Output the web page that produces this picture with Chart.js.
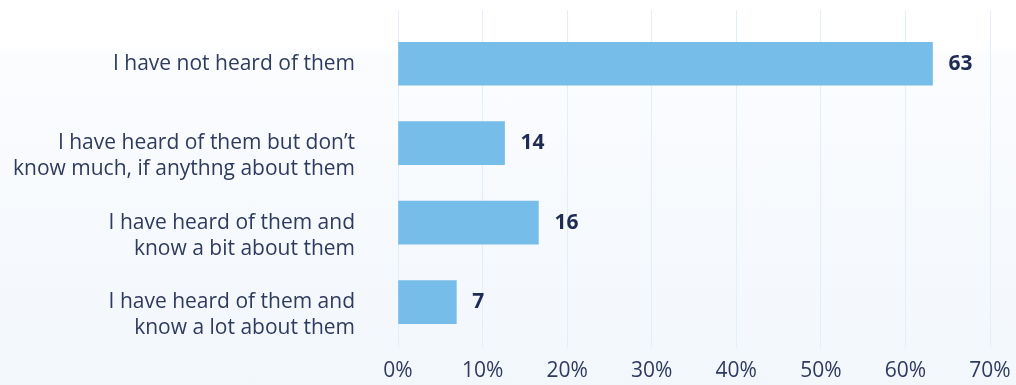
<!DOCTYPE html>
<html>
<head>
<meta charset="utf-8">
<script src="https://cdn.jsdelivr.net/npm/chart.js@4"></script>
<style>
  html, body { margin: 0; padding: 0; }
  body {
    width: 1016px;
    height: 385px;
    background: linear-gradient(to bottom, #ffffff 0%, #ffffff 12%, #fbfcfe 14%, #f2f7fc 100%);
  }
  #chartBox { position: relative; width: 1016px; height: 385px; }
</style>
</head>
<body>
<div id="chartBox"><canvas id="awareChart"></canvas></div>
<script>
// Categories (multi-line labels; the leading '' keeps the first line level with the bar)
const categories = [
    ['I have not heard of them'],
    ['', 'I have heard of them but don\u2019t', 'know much, if anythng about them'],
    ['', 'I have heard of them and', 'know a bit about them'],
    ['', 'I have heard of them and', 'know a lot about them']
];

// Bar lengths as drawn in the picture (percent)
const barValues = [63.2, 12.6, 16.6, 6.9];

// Numbers printed next to the bars
const valueLabels = ['63', '14', '16', '7'];

// X axis range / ticks
const axisMin = 0;
const axisMax = 70;
const axisStep = 10;

const textColor = '#2f3b5e';
const gridColor = '#e2eff8';

// Draw the value labels just past the end of each bar
const valueLabelPlugin = {
    id: 'valueLabels',
    afterDatasetsDraw(chart) {
        const ctx = chart.ctx;
        const meta = chart.getDatasetMeta(0);
        ctx.save();
        ctx.font = 'bold 21px "Open Sans"';
        ctx.fillStyle = '#1f2b52';
        ctx.textAlign = 'left';
        ctx.textBaseline = 'middle';
        meta.data.forEach((bar, i) => {
            ctx.fillText(valueLabels[i], bar.x + 16, bar.y);
        });
        ctx.restore();
    }
};

const ctx = document.getElementById('awareChart').getContext('2d');
new Chart(ctx, {
    type: 'bar',
    data: {
        labels: categories,
        datasets: [{
            data: barValues,
            backgroundColor: '#76bde9',
            borderWidth: 0,
            barThickness: 43
        }]
    },
    options: {
        indexAxis: 'y',
        responsive: true,
        maintainAspectRatio: false,
        animation: false,
        layout: { padding: { top: 10, right: 26, bottom: -10, left: 0 } },
        plugins: {
            legend: { display: false },
            tooltip: { enabled: false }
        },
        scales: {
            x: {
                position: 'bottom',
                min: axisMin,
                max: axisMax,
                border: { display: false },
                grid: { color: gridColor, lineWidth: 1, tickLength: 6 },
                afterFit: scale => { scale.paddingLeft = 0; scale.paddingRight = 0; },
                ticks: {
                    stepSize: axisStep,
                    padding: 11,
                    color: textColor,
                    font: { family: 'Open Sans', size: 21 },
                    callback: v => v + '%'
                }
            },
            // only used to extend the grid lines above the first bar
            xTop: {
                axis: 'x',
                position: 'top',
                min: axisMin,
                max: axisMax,
                border: { display: false },
                grid: { color: gridColor, lineWidth: 1, tickLength: 14, drawOnChartArea: false },
                afterFit: scale => { scale.paddingLeft = 0; scale.paddingRight = 0; },
                ticks: { stepSize: axisStep, display: false }
            },
            y: {
                border: { display: false },
                grid: { display: false, drawTicks: false },
                afterFit: scale => {
                    scale.width = 398;
                    scale.paddingTop = 0;
                    scale.paddingBottom = 0;
                },
                ticks: {
                    autoSkip: false,
                    padding: 43,
                    color: textColor,
                    font: { family: 'Open Sans', size: 21, lineHeight: 1.25 }
                }
            }
        }
    },
    plugins: [valueLabelPlugin]
});
</script>
</body>
</html>
